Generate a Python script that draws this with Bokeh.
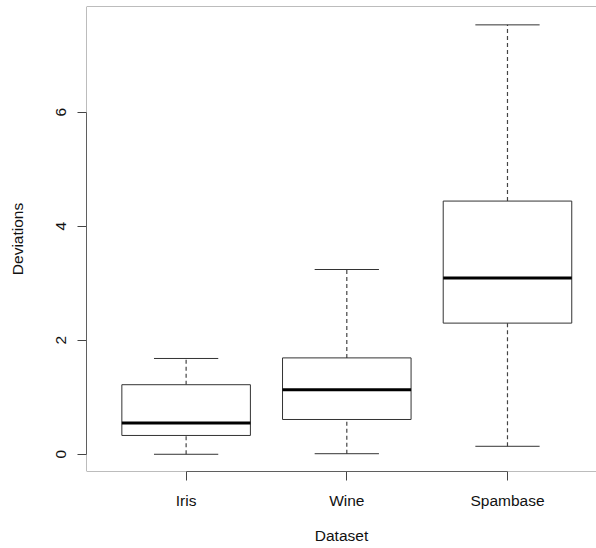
from bokeh.plotting import figure
from bokeh.models import Range1d, FixedTicker, Span, LinearAxis
from bokeh.embed import file_html
from bokeh.resources import INLINE

# Five-number summaries of the deviations per dataset
datasets = ["Iris", "Wine", "Spambase"]
whisker_low = [0.00, 0.01, 0.14]
q1 = [0.33, 0.61, 2.30]
median = [0.55, 1.13, 3.09]
q3 = [1.22, 1.69, 4.44]
whisker_high = [1.68, 3.24, 7.53]
y_ticks = [0, 2, 4, 6]

positions = list(range(1, len(datasets) + 1))
box_half = 0.4
cap_half = 0.2

FONT = "Liberation Sans"
FS = "15.5px"

p = figure(
    width=596, height=548,
    x_range=Range1d(0.38, 3.554),
    y_range=Range1d(-0.302, 7.852),
    output_backend="svg", toolbar_location=None,
    x_axis_location=None, y_axis_location=None,
    min_border_left=86, min_border_right=0,
    min_border_top=6, min_border_bottom=77,
)
p.grid.visible = False
p.outline_line_color = None
p.background_fill_color = "white"
p.border_fill_color = "white"

# Plot frame (top, left, bottom sides)
frame_color = "#7a7a7a"
for loc, dim in [(p.y_range.end, "width"), (p.y_range.start, "width"), (p.x_range.start, "height")]:
    p.add_layout(Span(location=loc, dimension=dim, line_color=frame_color, line_width=1))

# Axes
xaxis = LinearAxis(
    ticker=FixedTicker(ticks=positions),
    major_label_overrides={pos: name for pos, name in zip(positions, datasets)},
    bounds=(positions[0], positions[-1]),
    axis_label="Dataset",
)
yaxis = LinearAxis(
    ticker=FixedTicker(ticks=y_ticks),
    bounds=(y_ticks[0], y_ticks[-1]),
    axis_label="Deviations",
    major_label_orientation="parallel",
)
for ax in (xaxis, yaxis):
    ax.axis_line_color = "#444444"
    ax.major_tick_line_color = "#444444"
    ax.major_tick_in = 0
    ax.major_tick_out = 9
    ax.minor_tick_line_color = None
    ax.major_label_text_font = FONT
    ax.major_label_text_font_size = FS
    ax.major_label_text_color = "#111111"
    ax.axis_label_text_font = FONT
    ax.axis_label_text_font_size = FS
    ax.axis_label_text_font_style = "normal"
    ax.axis_label_text_color = "#111111"
xaxis.major_label_standoff = 11
xaxis.axis_label_standoff = 15
yaxis.major_label_standoff = 11
yaxis.axis_label_standoff = 28
p.add_layout(xaxis, "below")
p.add_layout(yaxis, "left")

line_col = "#333333"

# Whiskers (dashed) from box edges to extremes
p.segment(x0=positions, y0=q3, x1=positions, y1=whisker_high,
          line_color="#444444", line_width=1.2, line_dash="4 3")
p.segment(x0=positions, y0=whisker_low, x1=positions, y1=q1,
          line_color="#444444", line_width=1.2, line_dash="4 3")

# Whisker caps
cap_l = [x - cap_half for x in positions]
cap_r = [x + cap_half for x in positions]
p.segment(x0=cap_l, y0=whisker_high, x1=cap_r, y1=whisker_high, line_color=line_col, line_width=1)
p.segment(x0=cap_l, y0=whisker_low, x1=cap_r, y1=whisker_low, line_color=line_col, line_width=1)

# Boxes
p.vbar(x=positions, width=2 * box_half, bottom=q1, top=q3,
       fill_color="white", line_color=line_col, line_width=1)

# Medians
box_l = [x - box_half for x in positions]
box_r = [x + box_half for x in positions]
p.segment(x0=box_l, y0=median, x1=box_r, y1=median, line_color="black", line_width=3)

open("out.html", "w").write(file_html(p, INLINE))
